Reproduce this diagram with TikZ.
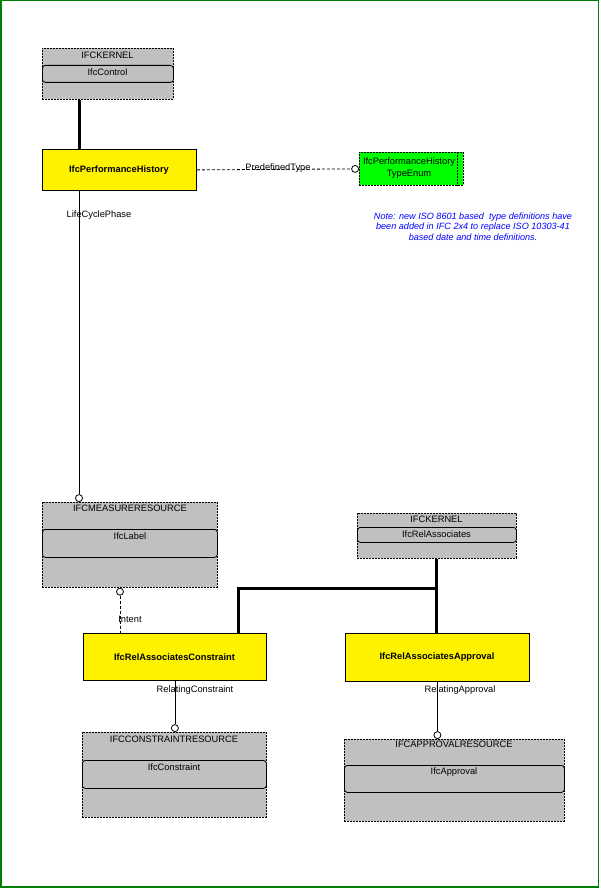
\documentclass[tikz,border=0pt]{standalone}
\usepackage{fontspec}
\setmainfont{Liberation Sans}
\usetikzlibrary{calc}
\definecolor{pkggray}{RGB}{192,192,192}
\definecolor{framegreen}{RGB}{0,128,0}
\definecolor{enumgreen}{RGB}{0,255,0}
\definecolor{noteblue}{RGB}{0,0,255}
\tikzset{
  txt/.style={font=\fontsize{9.3}{11}\selectfont, inner sep=0pt, text=black},
  pkgbox/.style={draw, fill=pkggray, line width=0.8pt, dash pattern=on 2pt off 1pt, anchor=north west, inner sep=0pt},
  innerbox/.style={draw, fill=pkggray, line width=0.8pt, rounded corners=3pt, anchor=north west, inner sep=0pt},
  clsbox/.style={draw, fill=yellow, line width=0.8pt, anchor=north west, inner sep=0pt},
  enumbox/.style={draw, fill=enumgreen, line width=0.8pt, dash pattern=on 2pt off 1pt, anchor=north west, inner sep=0pt},
  opencirc/.style={circle, draw, fill=white, line width=0.8pt, minimum size=7pt, inner sep=0pt},
  thinlink/.style={draw, line width=0.8pt},
  dashlink/.style={draw, line width=0.8pt, dash pattern=on 3pt off 2pt},
  thicklink/.style={draw, line width=3pt},
}
\begin{document}
\begin{tikzpicture}[x=1pt,y=-1pt]
\useasboundingbox (0,0) rectangle (600,888);
\draw[framegreen, line width=1.5pt] (0.75,0.75) rectangle (598.5,886.8);

% IFCKERNEL top
\node[pkgbox, minimum width=131pt, minimum height=51pt] (k1) at (42,48) {};
\node[innerbox, minimum width=131pt, minimum height=17pt] (k1c) at (42,65) {};
\node[txt] (k1t) at (107.5,55) {IFCKERNEL};
\node[txt] (k1ct) at (107.5,72.5) {IfcControl};

% IfcPerformanceHistory
\node[clsbox, minimum width=154pt, minimum height=41pt] (ph) at (42,149) {};
\node[txt, font=\fontsize{9.3}{11}\selectfont\bfseries] (pht) at (119,170) {IfcPerformanceHistory};

% Enum
\node[enumbox, minimum width=104pt, minimum height=33pt] (en) at (359,152) {};
\draw[line width=0.8pt, dash pattern=on 2pt off 1pt] ([xshift=98pt]en.north west) -- ([xshift=98pt]en.south west);
\node[txt, align=center, font=\fontsize{9.3}{12}\selectfont] (ent) at (409,168.5) {IfcPerformanceHistory\\TypeEnum};

% Note
\node[txt, align=center, text=noteblue, font=\fontsize{9.1}{10.5}\selectfont\itshape] (note) at (473,226.5)
  {Note: new ISO 8601 based\ \ type definitions have\\been added in IFC 2x4 to replace ISO 10303-41\\based date and time definitions.};

% IFCMEASURERESOURCE
\node[pkgbox, minimum width=175pt, minimum height=85pt] (mr) at (42,502) {};
\node[innerbox, minimum width=175pt, minimum height=28pt] (mrc) at (42,529) {};
\node[txt] (mrt) at (130,508) {IFCMEASURERESOURCE};
\node[txt] (mrct) at (130,536) {IfcLabel};

% IFCKERNEL right
\node[pkgbox, minimum width=159pt, minimum height=45pt] (k2) at (357,513) {};
\node[innerbox, minimum width=159pt, minimum height=15pt] (k2c) at (357,527) {};
\node[txt] (k2t) at (436.5,519) {IFCKERNEL};
\node[txt] (k2ct) at (436.5,534) {IfcRelAssociates};

% IfcRelAssociatesConstraint
\node[clsbox, minimum width=183pt, minimum height=47pt] (rc) at (83,633) {};
\node[txt, font=\fontsize{9.3}{11}\selectfont\bfseries] (rct) at (174.5,657) {IfcRelAssociatesConstraint};

% IfcRelAssociatesApproval
\node[clsbox, minimum width=184pt, minimum height=48pt] (ra) at (345,633) {};
\node[txt, font=\fontsize{9.3}{11}\selectfont\bfseries] (rat) at (437,657) {IfcRelAssociatesApproval};

% IFCCONSTRAINTRESOURCE
\node[pkgbox, minimum width=184pt, minimum height=85pt] (cr) at (82,732) {};
\node[innerbox, minimum width=184pt, minimum height=28pt] (crc) at (82,760) {};
\node[txt] (crt) at (174,739) {IFCCONSTRAINTRESOURCE};
\node[txt] (crct) at (174,767) {IfcConstraint};

% IFCAPPROVALRESOURCE
\node[pkgbox, minimum width=220pt, minimum height=82pt] (ar) at (344,739) {};
\node[innerbox, minimum width=220pt, minimum height=27pt] (arc) at (344,765) {};
\node[txt] (art) at (454,744.5) {IFCAPPROVALRESOURCE};
\node[txt] (arct) at (454,772) {IfcApproval};

% --- connectors ---
% k1 -> ph (thick)
\draw[thicklink] ([xshift=37pt]k1.south west) -- ([xshift=37pt]ph.north west);

% ph -> en (dashed, PredefinedType)
\node[opencirc, anchor=east] (c1) at (en.west) {};
\draw[dashlink] (ph.east) -- (c1.west);
\node[txt] (l1) at (278,168) {PredefinedType};

% ph -> mr (LifeCyclePhase)
\node[opencirc, anchor=south] (c2) at ([xshift=37pt]mr.north west) {};
\draw[thinlink] (ph.south -| c2.north) -- (c2.north);
\node[txt] (l2) at (99,215) {LifeCyclePhase};

% mr -> rc (dashed, Intent)
\node[opencirc, anchor=north] (c3) at ([xshift=78pt]mr.south west) {};
\draw[dashlink] (c3.south) -- (c3.south |- rc.north);
\node[txt] (l3) at (130,619.5) {Intent};

% k2 -> rc, ra (thick)
\coordinate (j) at ($(k2.south)+(0,30)$);
\draw[thicklink] (k2.south) -- (j) -| ([xshift=155pt]rc.north west);
\draw[thicklink] (j) -- (j |- ra.north);

% rc -> cr (RelatingConstraint)
\node[opencirc, anchor=south] (c4) at (cr.north -| rc.south) {};
\draw[thinlink] (rc.south) -- (c4.north);
\node[txt] (l4) at (195,690.5) {RelatingConstraint};

% ra -> ar (RelatingApproval)
\node[opencirc, anchor=south] (c5) at (ar.north -| ra.south) {};
\draw[thinlink] (ra.south) -- (c5.north);
\node[txt] (l5) at (460,690) {RelatingApproval};
\end{tikzpicture}
\end{document}
